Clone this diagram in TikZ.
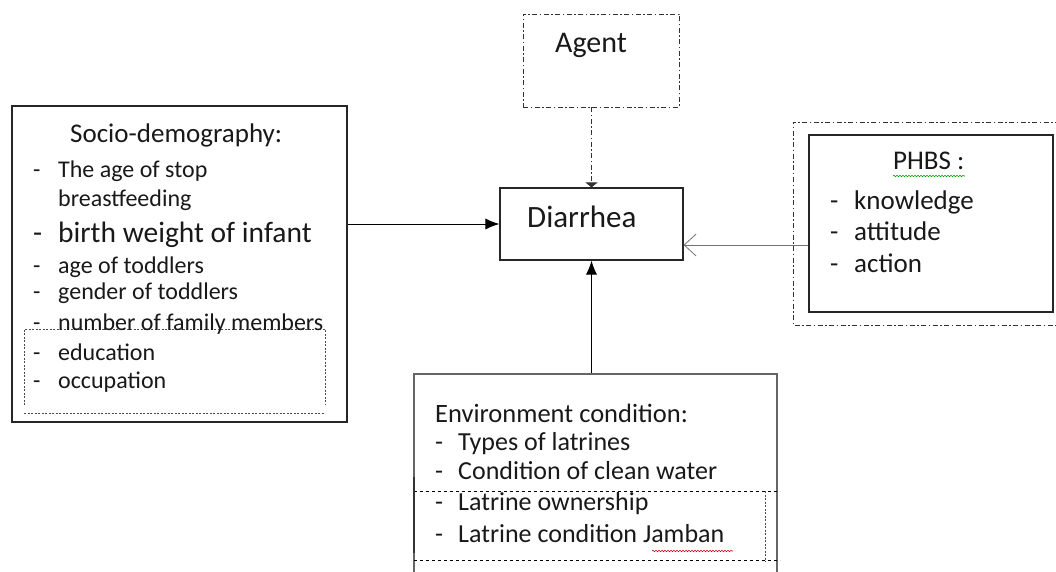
\documentclass[tikz,border=0pt]{standalone}
\usepackage{fontspec}
\setmainfont{Carlito}
\usetikzlibrary{arrows.meta,decorations.pathmorphing}

\begin{document}
\begin{tikzpicture}[x=1pt,y=-1pt,
  box/.style={draw=black!85,line width=1.1pt,inner sep=0pt},
  dashdot/.style={draw=black!80,line width=0.9pt,dash pattern=on 5pt off 2.5pt on 1.5pt off 2.5pt},
  fine/.style={draw=black!70,line width=0.6pt,dash pattern=on 2pt off 1.5pt},
  txt/.style={anchor=base west,inner sep=0pt,text=black!90},
  sitem/.style={txt,font=\fontsize{24}{28}\selectfont},
  eitem/.style={txt,font=\fontsize{26}{30}\selectfont},
  pitem/.style={txt,font=\fontsize{27}{30}\selectfont},
  wavy/.style={decorate,decoration={snake,amplitude=0.7pt,segment length=3pt},line width=0.6pt}]
\clip (0,0) rectangle (1056,572);
\fill[white] (0,0) rectangle (1056,572);
% boxes
\node[box,minimum width=335pt,minimum height=316pt] (socio) at (179.5,264) {};
\node[box,minimum width=183pt,minimum height=72pt] (diarrhea) at (591.5,224) {};
\node[dashdot,minimum width=156pt,minimum height=93pt] (agent) at (601,60.5) {};
\node[box,minimum width=244pt,minimum height=177pt] (phbs) at (931,223.5) {};
\node[box,draw=black!60,minimum width=363pt,minimum height=230pt] (env) at (595.5,489) {};
% frames drawn around parts
\draw[dashdot] (1060,122) -| (793,325) -- (1060,325);
\draw[fine] (24,405) |- (325,329) -- (325,405);
\draw[fine] (24,413) -- (325,413);
\draw[dashed,line width=0.8pt] (414,491) -- (780,491);
\draw[dashed,line width=0.8pt] (414,560) -- (780,560);
\draw[fine] (765,491) -- (765,562);
\draw[line width=2.5pt,black!80] (414,477) -- (414,553);
% texts
\node[txt,font=\fontsize{30}{32}\selectfont] (agenttxt) at (555,53) {Agent};
\node[txt,font=\fontsize{31}{34}\selectfont] (diartxt) at (527,227) {Diarrhea};
\node[txt,font=\fontsize{27}{30}\selectfont] (shead) at (70,143) {Socio-demography:};
\node[sitem] (s1) at (33,177) {\makebox[25pt][l]{-}The age of stop};
\node[sitem] (s1b) at (58,206) {breastfeeding};
\node[txt,font=\fontsize{29.5}{32}\selectfont] (s2) at (33,242) {\makebox[25pt][l]{-}birth weight of infant};
\node[sitem] (s3) at (33,273) {\makebox[25pt][l]{-}age of toddlers};
\node[sitem] (s4) at (33,299) {\makebox[25pt][l]{-}gender of toddlers};
\node[sitem] (s5) at (33,330) {\makebox[25pt][l]{-}number of family members};
\node[sitem] (s6) at (33,360) {\makebox[25pt][l]{-}education};
\node[sitem] (s7) at (33,388) {\makebox[25pt][l]{-}occupation};
\node[pitem] (phead) at (893,170) {PHBS :};
\node[pitem] (p1) at (830,209) {\makebox[24pt][l]{-}knowledge};
\node[pitem] (p2) at (830,240) {\makebox[24pt][l]{-}attitude};
\node[pitem] (p3) at (830,272) {\makebox[24pt][l]{-}action};
\node[txt,font=\fontsize{26.5}{30}\selectfont] (ehead) at (435,422) {Environment condition:};
\node[eitem] (e1) at (435,450) {\makebox[23pt][l]{-}Types of latrines};
\node[eitem] (e2) at (435,479) {\makebox[23pt][l]{-}Condition of clean water};
\node[eitem] (e3) at (435,510) {\makebox[23pt][l]{-}Latrine ownership};
\node[eitem] (e4) at (435,542) {\makebox[23pt][l]{-}Latrine condition Jamban};
% spell marks
\draw[wavy,green!60!black] (893,176) -- (965,176);
\draw[wavy,red!80!black] (652,551) -- (733,551);
% connectors
\draw[line width=1pt,-{Latex[length=14pt,width=11pt]}] (socio.east |- diarrhea.west) -- (diarrhea.west);
\draw[dashdot,-{Triangle[length=5pt,width=12pt]}] (agent.south -| diarrhea.north) -- (diarrhea.north);
\draw[black!55,line width=0.8pt,-{Straight Barb[length=12pt,width=22pt]}] ([yshift=-21.5pt]phbs.west) -- ([yshift=-21.5pt]phbs.west -| diarrhea.east);
\draw[line width=1pt,-{Latex[length=14pt,width=11pt]}] (env.north -| diarrhea.south) -- (diarrhea.south);
\end{tikzpicture}
\end{document}
